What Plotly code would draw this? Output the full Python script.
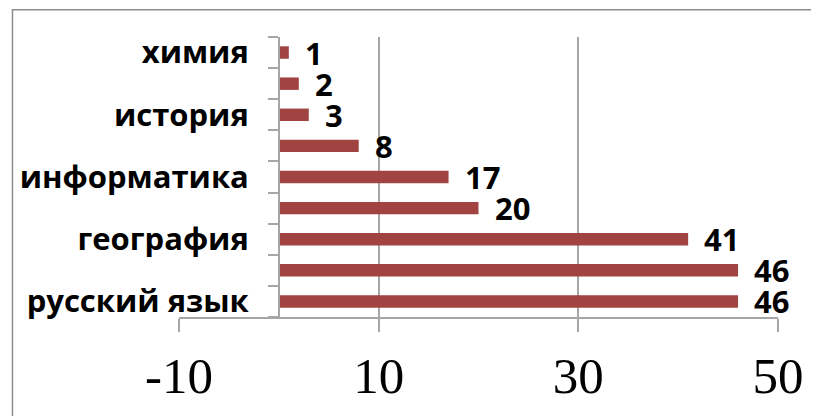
import plotly.graph_objects as go

# Data (bottom to top)
subjects = ["русский язык", "", "география", "", "информатика", "", "история", "", "химия"]
values = [46, 46, 41, 20, 17, 8, 3, 2, 1]
x_ticks = [-10, 10, 30, 50]
x_range = [-10, 50]

positions = list(range(len(values)))
boundaries = [p - 0.5 for p in positions] + [positions[-1] + 0.5]
y_range = [boundaries[0], boundaries[-1]]
zero_pos = (0 - x_range[0]) / (x_range[1] - x_range[0])

GRID = "#A6A6A6"
BAR = "#A04341"
LABEL_FONT = dict(family="Open Sans", size=31, color="black", weight="bold")

fig = go.Figure()
fig.add_trace(go.Bar(
    x=values, y=positions, orientation="h",
    marker=dict(color=BAR, line=dict(width=0)),
    width=0.4, yaxis="y", hoverinfo="skip",
))
# invisible trace to activate yaxis2
fig.add_trace(go.Scatter(x=[None], y=[None], yaxis="y2", showlegend=False))

for v, p in zip(values, positions):
    fig.add_annotation(x=v, y=p, text=str(v), xanchor="left", yanchor="middle",
                       xshift=14, showarrow=False, font=LABEL_FONT)

fig.update_layout(
    width=811, height=408, autosize=False,
    margin=dict(l=170, r=41, t=29, b=91, pad=0),
    paper_bgcolor="white", plot_bgcolor="white",
    showlegend=False, bargap=0.6,
    xaxis=dict(
        range=x_range, tickvals=x_ticks, ticktext=[str(t) for t in x_ticks],
        showgrid=True, gridcolor=GRID, gridwidth=1.5,
        showline=True, linecolor=GRID, linewidth=1.5,
        ticks="outside", ticklen=13, tickcolor=GRID, tickwidth=1.5,
        tickfont=dict(family="Liberation Serif", size=51, color="black"),
        zeroline=False, domain=[0, 1],
    ),
    yaxis=dict(
        range=y_range, tickvals=positions, ticktext=subjects,
        ticks="", showgrid=False, zeroline=False, showline=False,
        anchor="free", position=zero_pos,
        tickfont=LABEL_FONT, ticklabelstandoff=30,
    ),
    yaxis2=dict(
        range=y_range, overlaying="y", tickvals=boundaries,
        showticklabels=False, ticks="outside", ticklen=10,
        tickcolor=GRID, tickwidth=1.5,
        showline=True, linecolor=GRID, linewidth=1.5,
        showgrid=False, zeroline=False,
        anchor="free", position=zero_pos,
    ),
    shapes=[dict(type="rect", xref="paper", yref="paper",
                 x0=-0.278, x1=1.2, y0=-0.6, y1=1.097,
                 line=dict(color="#8C8C8C", width=1.5), layer="below")],
)

fig.write_html("out.html")
